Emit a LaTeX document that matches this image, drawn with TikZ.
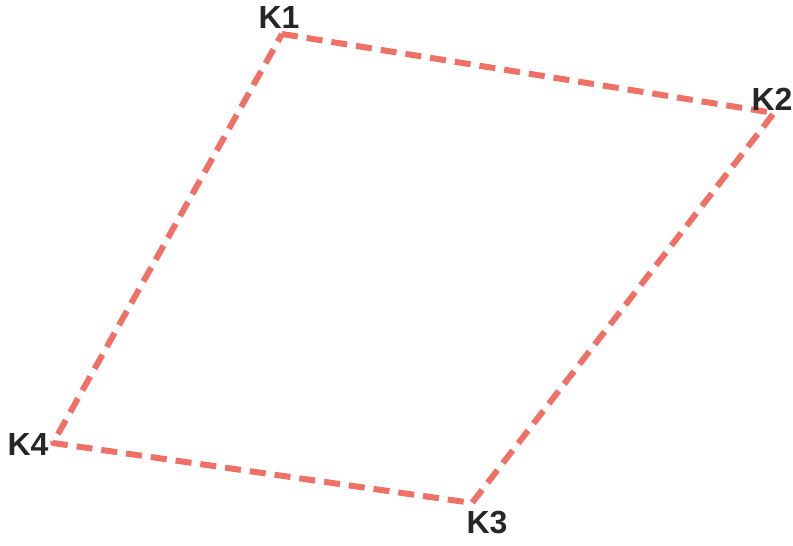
\documentclass[tikz,border=0pt]{standalone}
\usepackage{fontspec}
\setmainfont{Liberation Sans}
\definecolor{edgered}{RGB}{240,112,102}
\begin{document}
\begin{tikzpicture}[x=1pt,y=-1pt,
  edge/.style={draw=edgered,line width=6pt,dash pattern=on 16pt off 9pt,line join=round},
  lbl/.style={font=\fontsize{32}{32}\selectfont\bfseries,text=black!85,inner sep=0pt}]
\useasboundingbox[fill=white] (0,0) rectangle (793,546);
\coordinate (c1) at (282,34);
\coordinate (c2) at (774,113);
\coordinate (c3) at (472,503);
\coordinate (c4) at (53,443);
\draw[edge] (c1) -- (c2) -- (c3) -- (c4) -- cycle;
\node[lbl] (k1) at (279,17) {K1};
\node[lbl] (k2) at (772,99) {K2};
\node[lbl] (k3) at (487,523) {K3};
\node[lbl] (k4) at (28,444) {K4};
\end{tikzpicture}
\end{document}
